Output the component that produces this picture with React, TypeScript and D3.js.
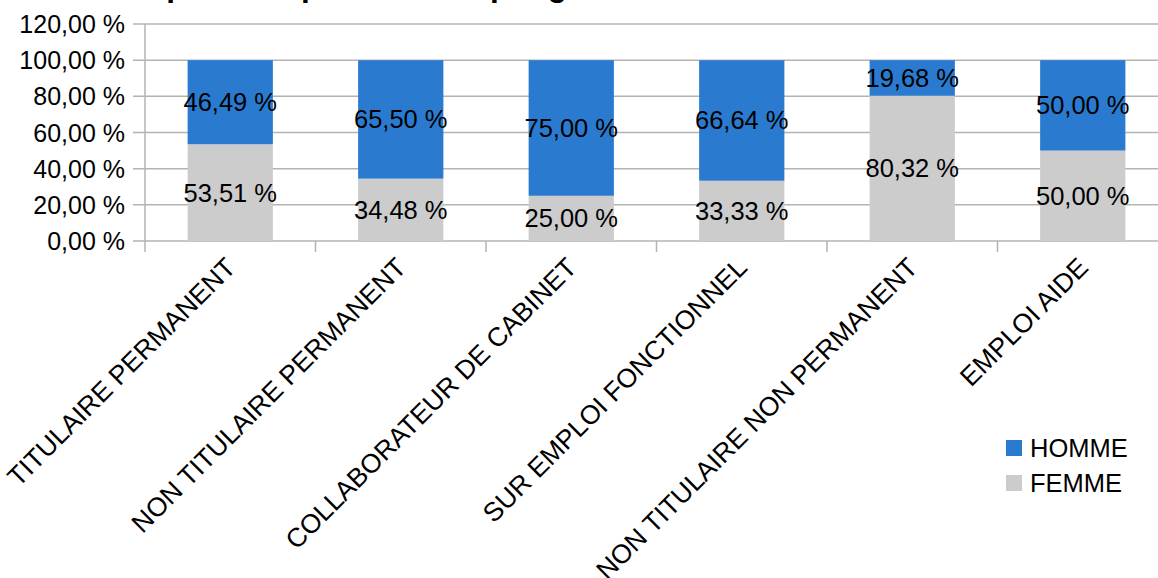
import React from "react";
import * as d3 from "d3";

const categories = [
  "TITULAIRE PERMANENT",
  "NON TITULAIRE PERMANENT",
  "COLLABORATEUR DE CABINET",
  "SUR EMPLOI FONCTIONNEL",
  "NON TITULAIRE NON PERMANENT",
  "EMPLOI AIDE",
];
const femme = [53.51, 34.48, 25.0, 33.33, 80.32, 50.0];
const homme = [46.49, 65.5, 75.0, 66.64, 19.68, 50.0];
const yTicks = [0, 20, 40, 60, 80, 100, 120];
const seriesNames = ["HOMME", "FEMME"];
const title = "Répartition par statut et par genre";

const W = 1158;
const H = 578;
const BLUE = "#2a7bd0";
const GRAY = "#cccccc";
const GRID = "#b3b3b3";
const FONT = "'Liberation Sans', Arial, sans-serif";

const fmt = (v: number) => v.toFixed(2).replace(".", ",") + " %";

export default function App() {
  const x = d3.scaleBand<string>().domain(categories).range([145, 1168]).paddingInner(0.5).paddingOuter(0.25);
  const y = d3.scaleLinear().domain([0, 120]).range([241, 24]);
  const band = (1168 - 145) / categories.length;
  const stacked = categories.map((c, i) => ({
    c,
    f: femme[i],
    h: homme[i],
  }));
  const fs = 25;
  const cfs = 26.5;
  return (
    <svg
      width={W}
      height={H}
      style={{ position: "absolute", left: 0, top: 0, background: "#fff" }}
      fontFamily={FONT}
    >
      <rect x={0} y={0} width={W} height={H} fill="#fff" />
      <text x={126} y={-4.5} fontSize={31.5} fontWeight="bold" fill="#000">
        {title}
      </text>
      {/* gridlines */}
      {yTicks.map((t) => (
        <line key={t} x1={133} x2={W} y1={y(t)} y2={y(t)} stroke={GRID} strokeWidth={1.5} />
      ))}
      {/* y axis */}
      <line x1={145} x2={145} y1={y(120)} y2={252} stroke={GRID} strokeWidth={1.5} />
      {d3.range(1, categories.length + 1).map((i) => (
        <line key={i} x1={145 + i * band} x2={145 + i * band} y1={y(0)} y2={252} stroke={GRID} strokeWidth={1.5} />
      ))}
      {yTicks.map((t) => (
        <text key={t} x={125} y={y(t) + 9} textAnchor="end" fontSize={fs} fill="#000">
          {fmt(t)}
        </text>
      ))}
      {/* bars */}
      {stacked.map((d) => {
        const bx = x(d.c)!;
        const bw = x.bandwidth();
        return (
          <g key={d.c}>
            <rect x={bx} y={y(d.f)} width={bw} height={y(0) - y(d.f)} fill={GRAY} />
            <rect x={bx} y={y(d.f + d.h)} width={bw} height={y(d.f) - y(d.f + d.h)} fill={BLUE} />
          </g>
        );
      })}
      {/* data labels */}
      {stacked.map((d) => {
        const cx = x(d.c)! + x.bandwidth() / 2;
        return (
          <g key={d.c + "l"} fontSize={25.5} fill="#000" textAnchor="middle">
            <text x={cx} y={y(d.f / 2) + 9}>{fmt(d.f)}</text>
            <text x={cx} y={y(d.f + d.h / 2) + 9}>{fmt(d.h)}</text>
          </g>
        );
      })}
      {/* category labels */}
      {categories.map((c) => {
        const cx = x(c)! + x.bandwidth() / 2;
        const ax = cx + 7;
        const ay = 269;
        return (
          <text
            key={c + "c"}
            x={ax}
            y={ay}
            fontSize={cfs}
            textAnchor="end"
            transform={`rotate(-45 ${ax} ${ay})`}
            fill="#000"
          >
            {c}
          </text>
        );
      })}
      {/* legend */}
      {seriesNames.map((s, i) => (
        <g key={s} transform={`translate(1006, ${440 + i * 35})`}>
          <rect x={0} y={0} width={16} height={16} fill={i === 0 ? BLUE : GRAY} />
          <text x={24} y={17} fontSize={25.5} fill="#000">
            {s}
          </text>
        </g>
      ))}
    </svg>
  );
}
